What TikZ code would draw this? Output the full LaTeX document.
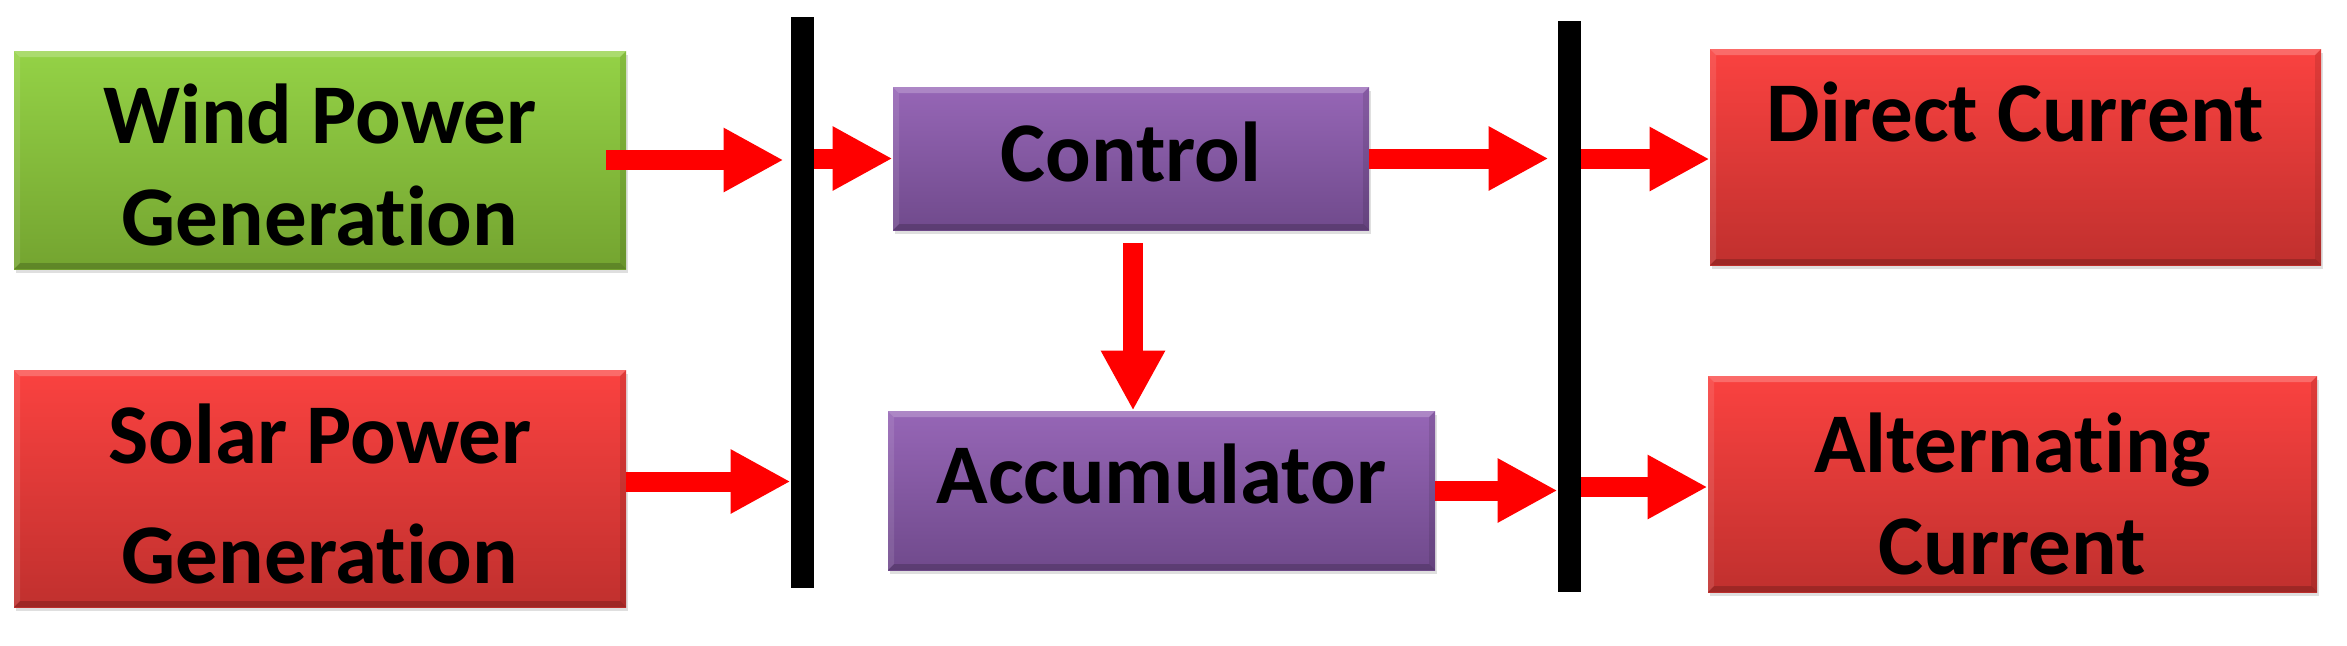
\documentclass[tikz,border=0pt]{standalone}
\usepackage{fontspec}
\setmainfont{Carlito}[Ligatures=NoCommon]
\usetikzlibrary{arrows.meta,shadows}
\definecolor{gtop}{RGB}{148,210,70}
\definecolor{gbot}{RGB}{116,164,48}
\definecolor{rtop}{RGB}{250,66,64}
\definecolor{rbot}{RGB}{192,48,46}
\definecolor{ptop}{RGB}{150,102,182}
\definecolor{pbot}{RGB}{112,74,140}
\definecolor{arred}{RGB}{255,0,0}
% helpers to nudge text inside a fixed-size box
\newcommand\txtdown[1]{\raisebox{#1}{\vphantom{d}}}
\newcommand\txtup[1]{\raisebox{-#1}{\vphantom{C}}}
\tikzset{
  box/.style={rectangle, inner sep=0pt, align=center,
    font=\fontsize{42.5}{51}\selectfont\bfseries,
    drop shadow={shadow xshift=1pt, shadow yshift=-2pt, opacity=0.25},
    path picture={
      \fill[white,opacity=0.22] (path picture bounding box.north west) -- (path picture bounding box.north east)
        -- ([xshift=-3pt,yshift=-3pt]path picture bounding box.north east) -- ([xshift=3pt,yshift=-3pt]path picture bounding box.north west) -- cycle;
      \fill[black,opacity=0.18] (path picture bounding box.south west) -- (path picture bounding box.south east)
        -- ([xshift=-3pt,yshift=3pt]path picture bounding box.south east) -- ([xshift=3pt,yshift=3pt]path picture bounding box.south west) -- cycle;
      \fill[black,opacity=0.10] (path picture bounding box.north east) -- (path picture bounding box.south east)
        -- ([xshift=-3pt,yshift=3pt]path picture bounding box.south east) -- ([xshift=-3pt,yshift=-3pt]path picture bounding box.north east) -- cycle;
      \fill[white,opacity=0.10] (path picture bounding box.north west) -- (path picture bounding box.south west)
        -- ([xshift=3pt,yshift=3pt]path picture bounding box.south west) -- ([xshift=3pt,yshift=-3pt]path picture bounding box.north west) -- cycle;
    }},
  greenbox/.style={box, top color=gtop, bottom color=gbot},
  redbox/.style={box, top color=rtop, bottom color=rbot},
  purplebox/.style={box, top color=ptop, bottom color=pbot},
  busbar/.style={rectangle, fill=black, inner sep=0pt, minimum width=11.5pt, minimum height=285.5pt},
  arr/.style={draw=arred, line width=10pt, -{Triangle[length=30pt,width=30pt]}, arred},
}
\begin{document}
\begin{tikzpicture}[x=0.5pt,y=-0.5pt]
\useasboundingbox (0,0) rectangle (2347,645);
% boxes
\node[greenbox, minimum width=306pt, minimum height=109pt] (wind) at (320,160) {\txtdown{5pt}Wind Power\\Generation};
\node[redbox, minimum width=306pt, minimum height=118.5pt, font=\fontsize{42.5}{60}\selectfont\bfseries] (solar) at (320,488.5) {\txtdown{5pt}Solar Power\\Generation};
\node[purplebox, minimum width=238pt, minimum height=71.5pt] (control) at (1131,158.5) {Control\txtup{6.5pt}};
\node[purplebox, minimum width=273.5pt, minimum height=79.5pt] (accum) at (1161.5,490.5) {Accumulator\txtup{17pt}};
\node[redbox, minimum width=305.5pt, minimum height=108pt] (dc) at (2015.5,157) {\txtdown{13pt}Direct Current\\\vphantom{Gg}};
\node[redbox, minimum width=304.5pt, minimum height=108pt] (ac) at (2012.5,484) {\txtdown{10pt}Alternating\\Current};
% bus bars
\node[busbar] (bar1) at (802.5,302.5) {};
\node[busbar] (bar2) at (1569.5,306.5) {};
% arrows
\draw[arr, shorten >=3.5pt] ([xshift=-10pt]wind.east) -- (wind.east -| bar1.west);
\draw[arr] ([yshift=3.5pt]solar.east) -- ([yshift=3.5pt]solar.east -| bar1.west);
\draw[arr] (bar1.east |- control.west) -- (control.west);
\draw[arr, shorten >=4.5pt] (control.east) -- (control.east -| bar2.west);
\draw[arr, shorten <=6.5pt] ([xshift=1pt]control.south) -- ([xshift=1pt]control.south |- accum.north);
\draw[arr] (accum.east) -- (accum.east -| bar2.west);
\draw[arr] ([yshift=-1pt]dc.west -| bar2.east) -- ([yshift=-1pt]dc.west);
\draw[arr] ([yshift=-1.5pt]ac.west -| bar2.east) -- ([yshift=-1.5pt]ac.west);
\end{tikzpicture}
\end{document}
